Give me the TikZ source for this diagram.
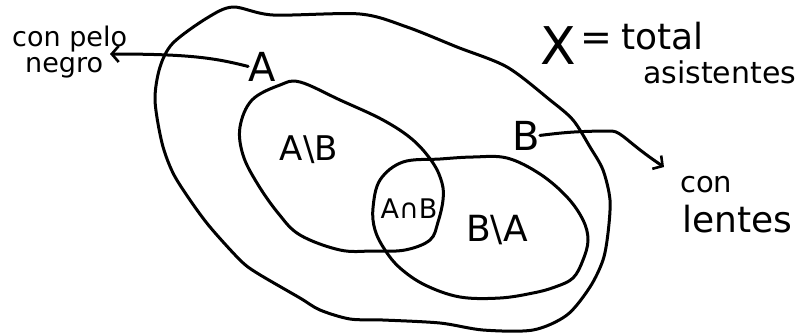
\documentclass[tikz,border=0pt]{standalone}
\usepackage{fontspec}
\setmainfont{DejaVu Sans}
\usetikzlibrary{arrows.meta}
\tikzset{
  pen/.style={line width=3pt, line join=round, line cap=round},
  setline/.style={pen, draw=black},
  lbl/.style={inner sep=0pt, font=\fontsize{#1}{#1}\selectfont, anchor=base},
  lblw/.style={inner sep=0pt, font=\fontsize{#1}{#1}\selectfont, anchor=base west},
  barb/.style={-{Straight Barb[length=7pt,width=16pt,line width=2.6pt]}}
}
\begin{document}
\begin{tikzpicture}[x=1pt,y=-1pt]
\useasboundingbox (0,0) rectangle (799,333);
% universe X
\draw[setline] plot[smooth cycle, tension=0.5] coordinates {
 (233,7) (273,15) (360,14) (407,27) (457,47) (507,67) (550,100) (573,120)
 (590,147) (603,170) (610,200) (608,233) (603,260) (590,287) (567,315)
 (533,330) (483,330) (440,323) (383,320) (350,319) (320,310) (300,298)
 (257,273) (240,260) (210,227) (190,200) (173,173) (162,143) (155,100)
 (160,67) (173,43) (207,18)};
% set A
\draw[setline] plot[smooth cycle, tension=0.6] coordinates {
 (240,127) (252,100) (280,85) (300,82) (340,100) (383,120) (413,140)
 (433,163) (442,183) (443,200) (438,222) (430,240) (405,250) (373,251)
 (340,250) (300,235) (278,213) (257,183) (243,155)};
% set B
\draw[setline] plot[smooth cycle, tension=0.6] coordinates {
 (403,162) (440,159) (473,157) (507,158) (540,174) (567,197) (583,220)
 (588,240) (583,260) (573,278) (555,287) (533,293) (500,298) (460,297)
 (425,285) (400,268) (385,250) (375,230) (373,208) (380,180)};
% labels
\node[lbl=40] (A) at (262,81) {A};
\node[lbl=40] (B) at (526,150) {B};
\node[lbl=34] (AmB) at (309,160) {A\textbackslash B};
\node[lbl=27] (AiB) at (409,218) {A∩B};
\node[lbl=36] (BmA) at (497,241) {B\textbackslash A};
\node[lblw=27] (pelo) at (12,46) {con pelo};
\node[lblw=27] (negro) at (25,72) {negro};
\node[lbl=52] (X) at (558,64) {X};
\node[lbl=38] (eq) at (596,50) {=};
\node[lblw=36] (total) at (621,49) {total};
\node[lblw=30] (asis) at (643,83) {asistentes};
\node[lblw=29] (con) at (680,192) {con};
\node[lblw=36] (lentes) at (682,232) {lentes};
% arrows
\coordinate (tipA) at (110,54);
\coordinate (tipB) at (664,167);
\draw[pen, barb] (A.west) .. controls (215,58) and (190,54) .. (tipA);
\draw[pen, barb] (B.east) .. controls (560,133) and (575,131) .. (612,131)
  .. controls (622,132) and (628,143) .. (tipB);
\end{tikzpicture}
\end{document}
